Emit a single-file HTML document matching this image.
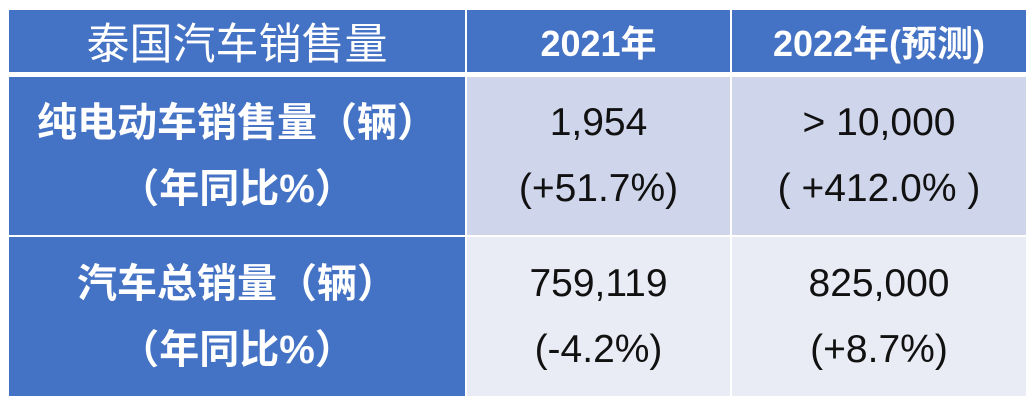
<!DOCTYPE html>
<html><head><meta charset="utf-8"><style>
body{margin:0;width:1032px;height:406px;background:#fff;position:relative;overflow:hidden;font-family:"Liberation Sans","Noto Sans CJK SC",sans-serif;}
.c{position:absolute;display:flex;flex-direction:column;align-items:center;justify-content:center;text-align:center;}
.h{background:#4472C4;color:#fff;font-size:36px;top:10px;height:62px;}
.b{background:#4472C4;color:#fff;font-size:40px;line-height:66px;font-weight:bold;}
.r1{background:#CFD5EA;top:77px;height:158px;}
.r2{background:#E9EBF5;top:237px;height:159px;}
.v{color:#111;font-size:39px;line-height:66px;}
</style></head><body>
<div class="c h" style="left:9px;width:456px;font-size:43px;">泰国汽车销售量</div>
<div class="c h" style="left:467px;width:263px;font-weight:bold;">2021年</div>
<div class="c h" style="left:732px;width:294px;font-weight:bold;">2022年(预测)</div>
<div class="c b" style="left:9px;width:456px;top:77px;height:158px;"><div>纯电动车销售量（辆）</div><div>（年同比%）</div></div>
<div class="c b" style="left:9px;width:456px;top:237px;height:159px;"><div>汽车总销量（辆）</div><div>（年同比%）</div></div>
<div class="c r1 v" style="left:467px;width:263px;"><div>1,954</div><div>(+51.7%)</div></div>
<div class="c r1 v" style="left:732px;width:294px;"><div>&gt; 10,000</div><div>( +412.0% )</div></div>
<div class="c r2 v" style="left:467px;width:263px;"><div>759,119</div><div>(-4.2%)</div></div>
<div class="c r2 v" style="left:732px;width:294px;"><div>825,000</div><div>(+8.7%)</div></div>
</body></html>
